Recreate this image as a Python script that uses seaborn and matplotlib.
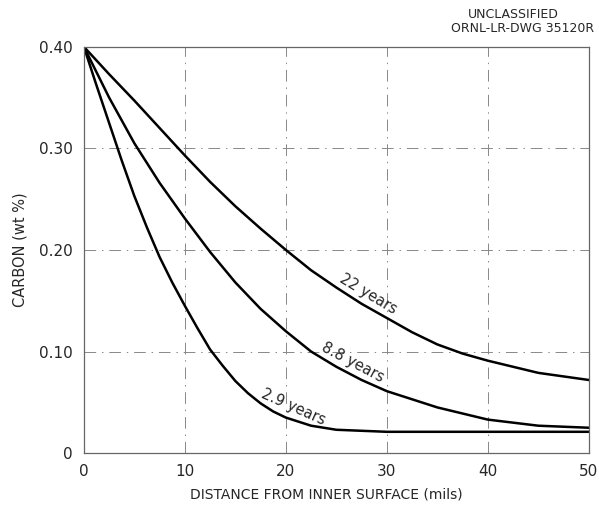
import numpy as np
import pandas as pd
import matplotlib
matplotlib.use("Agg")
import matplotlib.pyplot as plt
import seaborn as sns

# values (distance in mils, carbon in wt %)
dist_2_9 = [0, 1.25, 2.5, 3.75, 5, 6.25, 7.5, 8.75, 10, 11.25, 12.5, 13.75, 15,
            16.25, 17.5, 18.75, 20, 22.5, 25, 27.5, 30, 40, 50]
carbon_2_9 = [0.400, 0.362, 0.325, 0.288, 0.253, 0.222, 0.193, 0.168, 0.145, 0.123,
              0.102, 0.086, 0.071, 0.059, 0.049, 0.041, 0.035, 0.027, 0.023, 0.022,
              0.021, 0.021, 0.021]

dist_8_8 = [0, 2.5, 5, 7.5, 10, 12.5, 15, 17.5, 20, 22.5, 25, 27.5, 30, 35, 40, 45, 50]
carbon_8_8 = [0.400, 0.350, 0.305, 0.266, 0.231, 0.198, 0.168, 0.142, 0.120, 0.100,
              0.085, 0.072, 0.061, 0.045, 0.033, 0.027, 0.025]

dist_22 = [0, 2.5, 5, 7.5, 10, 12.5, 15, 17.5, 20, 22.5, 25, 27.5, 30, 32.5, 35,
           37.5, 40, 45, 50]
carbon_22 = [0.400, 0.373, 0.347, 0.320, 0.293, 0.267, 0.243, 0.221, 0.200, 0.180,
             0.163, 0.147, 0.133, 0.119, 0.107, 0.098, 0.091, 0.079, 0.072]

series_names = ["2.9 years", "8.8 years", "22 years"]

x_ticks = [0, 10, 20, 30, 40, 50]
y_ticks = [0, 0.10, 0.20, 0.30, 0.40]
y_tick_labels = ["0", "0.10", "0.20", "0.30", "0.40"]

df = pd.DataFrame({
    "distance": dist_2_9 + dist_8_8 + dist_22,
    "carbon": carbon_2_9 + carbon_8_8 + carbon_22,
    "age": np.repeat(series_names, [len(dist_2_9), len(dist_8_8), len(dist_22)]),
})

sns.set_style("white")
plt.rcParams["font.family"] = ["DejaVu Sans"]

fig = plt.figure(figsize=(5.99, 5.08), dpi=100)
ax = fig.add_axes([0.140, 0.108, 0.843, 0.800])

sns.lineplot(data=df, x="distance", y="carbon", units="age", estimator=None,
             sort=False, color="black", linewidth=1.8, legend=False, ax=ax)

ax.set_xlim(0, 50)
ax.set_ylim(0, 0.40)
ax.set_xticks(x_ticks)
ax.set_yticks(y_ticks)
ax.set_yticklabels(y_tick_labels)
ax.tick_params(length=0, labelsize=11, pad=8)
ax.grid(True, color="#888888", linewidth=0.7, linestyle=(0, (12, 6, 1.5, 6)))
for s in ax.spines.values():
    s.set_color("#666666")
    s.set_linewidth(0.9)

ax.set_xlabel("DISTANCE FROM INNER SURFACE (mils)", fontsize=10, labelpad=6)
ax.xaxis.set_label_coords(0.48, -0.085)
ax.set_ylabel("CARBON (wt %)", fontsize=10.5, labelpad=8)

# curve labels
ax.text(28.2, 0.157, "22 years", rotation=-31, fontsize=10.5, ha="center", va="center")
ax.text(26.6, 0.089, "8.8 years", rotation=-28, fontsize=10.5, ha="center", va="center")
ax.text(20.7, 0.045, "2.9 years", rotation=-24, fontsize=10.5, ha="center", va="center")

fig.text(0.857, 0.972, "UNCLASSIFIED", fontsize=9, ha="center", va="center")
fig.text(0.992, 0.943, "ORNL-LR-DWG 35120R", fontsize=9, ha="right", va="center")

fig.savefig("out.png", dpi=100, facecolor="white")
